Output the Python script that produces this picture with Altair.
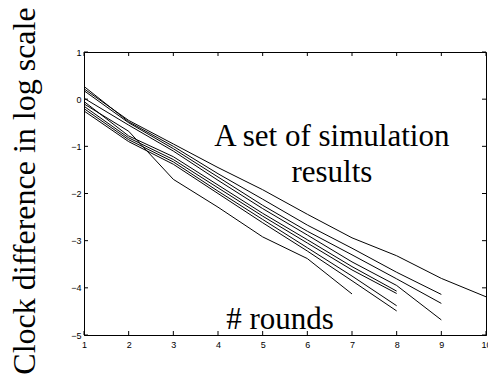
import altair as alt
import pandas as pd

# x: round number, y: log clock difference
s1 = [0.22, -0.45, -0.95, -1.45, -1.92, -2.44, -2.94, -3.32, -3.80, -4.19]
s2 = [0.27, -0.48, -1.00, -1.58, -2.12, -2.67, -3.16, -3.67, -4.14]
s3 = [0.18, -0.50, -1.05, -1.65, -2.25, -2.80, -3.30, -3.81, -4.33]
s4 = [0.02, -0.55, -1.10, -1.72, -2.32, -2.88, -3.45, -3.95, -4.68]
s5 = [-0.05, -0.78, -1.22, -1.82, -2.42, -2.98, -3.55, -4.07]
s6 = [-0.15, -0.82, -1.28, -1.88, -2.48, -3.05, -3.62, -4.12]
s7 = [-0.20, -0.86, -1.33, -1.95, -2.55, -3.15, -3.75, -4.38]
s8 = [-0.25, -0.90, -1.38, -2.00, -2.62, -3.22, -3.85, -4.49]
s9 = [-0.10, -0.68, -1.70, -2.29, -2.92, -3.38, -4.13]

all_series = [s1, s2, s3, s4, s5, s6, s7, s8, s9]

x_ticks = [1, 2, 3, 4, 5, 6, 7, 8, 9, 10]
y_ticks = [1, 0, -1, -2, -3, -4, -5]

ann_text = ["A set of simulation", "results", "# rounds"]
ann_x = [6.55, 6.55, 5.39]
ann_y = [-0.99, -1.75, -4.88]

rows = []
for i, s in enumerate(all_series):
    for k, v in enumerate(s):
        rows.append({"series": f"s{i+1}", "round": k + 1, "value": v})
df = pd.DataFrame(rows)

W, H = 402, 283
xs = alt.Scale(domain=[1, 10], nice=False, zero=False)
ys = alt.Scale(domain=[-5, 1], nice=False, zero=False)

lines = alt.Chart(df).mark_line(color="black", strokeWidth=1).encode(
    x=alt.X("round:Q", scale=xs, title=None,
            axis=alt.Axis(values=x_ticks, format="d", tickSize=0, labelPadding=5,
                          domainColor="black", labelColor="black", labelFont="Liberation Sans",
                          labelFontSize=9, grid=False, labelFlush=False)),
    y=alt.Y("value:Q", scale=ys, title=None,
            axis=alt.Axis(values=y_ticks, format="d", tickSize=0, labelPadding=3,
                          domainColor="black", labelColor="black", labelFont="Liberation Sans",
                          labelFontSize=9, grid=False, labelFlush=False)),
    detail="series:N",
)

xt = pd.DataFrame({"t": x_ticks})
yt = pd.DataFrame({"t": y_ticks})

bottom_ticks = alt.Chart(xt).mark_rule(color="black", strokeWidth=1).encode(
    x=alt.X("t:Q", scale=xs), y=alt.value(H), y2=alt.value(H - 4))
top_ticks = alt.Chart(xt).mark_rule(color="black", strokeWidth=1).encode(
    x=alt.X("t:Q", scale=xs), y=alt.value(0), y2=alt.value(4))
left_ticks = alt.Chart(yt).mark_rule(color="black", strokeWidth=1).encode(
    y=alt.Y("t:Q", scale=ys), x=alt.value(0), x2=alt.value(4))
right_ticks = alt.Chart(yt).mark_rule(color="black", strokeWidth=1).encode(
    y=alt.Y("t:Q", scale=ys), x=alt.value(W), x2=alt.value(W - 4))

ann = alt.Chart(pd.DataFrame({"text": ann_text, "x": ann_x, "y": ann_y})).mark_text(
    font="Liberation Serif", fontSize=31, color="black", align="center", baseline="alphabetic"
).encode(x=alt.X("x:Q", scale=xs), y=alt.Y("y:Q", scale=ys), text="text:N")

ytitle = alt.Chart(pd.DataFrame({"text": ["Clock difference in log scale"]})).mark_text(
    font="Liberation Serif", fontSize=32, color="black", align="center",
    baseline="alphabetic", angle=270
).encode(x=alt.value(-49), y=alt.value(139), text="text:N")

chart = alt.layer(lines, bottom_ticks, top_ticks, left_ticks, right_ticks, ann, ytitle).properties(
    width=W, height=H,
    autosize=alt.AutoSizeParams(type="none"),
    padding={"left": 84, "top": 52, "right": 2, "bottom": 42},
    background="white",
).configure_view(stroke="black", strokeWidth=1)

chart.save("out.html", embed_options={"renderer": "svg", "actions": False})
